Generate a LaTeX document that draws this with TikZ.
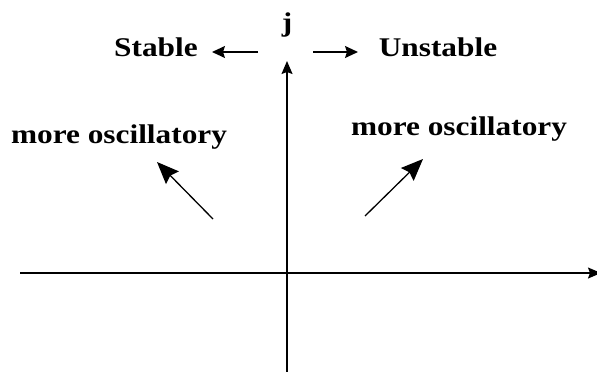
\documentclass[tikz,border=0pt]{standalone}
\usepackage{fontspec}
\usepackage{graphicx}
\setmainfont{Liberation Serif}
\usetikzlibrary{arrows.meta}
\newcommand{\wtext}[1]{\scalebox{1.16}[1]{#1}}
\begin{document}
\begin{tikzpicture}[x=1pt,y=-1pt,
  lbl/.style={font=\fontsize{27}{32}\selectfont\bfseries, inner sep=0pt, anchor=base},
  axis/.style={line width=1.4pt, -{Stealth[length=13pt,width=11pt,inset=2pt]}},
  harrow/.style={line width=1.4pt, -{Stealth[length=13pt,width=12pt,inset=2pt]}},
  darrow/.style={line width=1.3pt, -{Stealth[length=22pt,width=18pt,inset=3pt]}}]
\useasboundingbox (0,0) rectangle (597,372);
% axes
\coordinate (ybot) at (287,372);
\coordinate (ytop) at (287,61);
\coordinate (xl) at (20,273);
\coordinate (xr) at (601,273);
\draw[axis] (ybot) -- (ytop);
\draw[axis] (xl) -- (xr);
% labels
\node[lbl] (j) at (287,31) {\wtext{j}};
\node[lbl] (stable) at (156,56) {\wtext{Stable}};
\node[lbl] (unstable) at (438,56) {\wtext{Unstable}};
\node[lbl] (mol) at (119,143) {\wtext{more oscillatory}};
\node[lbl] (mor) at (459,135) {\wtext{more oscillatory}};
% horizontal arrows
\coordinate (sa) at (258,52);
\coordinate (sb) at (212,52);
\coordinate (ua) at (313,52);
\coordinate (ub) at (358,52);
\draw[harrow] (sa) -- (sb);
\draw[harrow] (ua) -- (ub);
% diagonal arrows
\coordinate (la) at (213,219);
\coordinate (lb) at (157,162);
\coordinate (ra) at (365,216);
\coordinate (rb) at (423,159);
\draw[darrow] (la) -- (lb);
\draw[darrow] (ra) -- (rb);
\end{tikzpicture}
\end{document}
